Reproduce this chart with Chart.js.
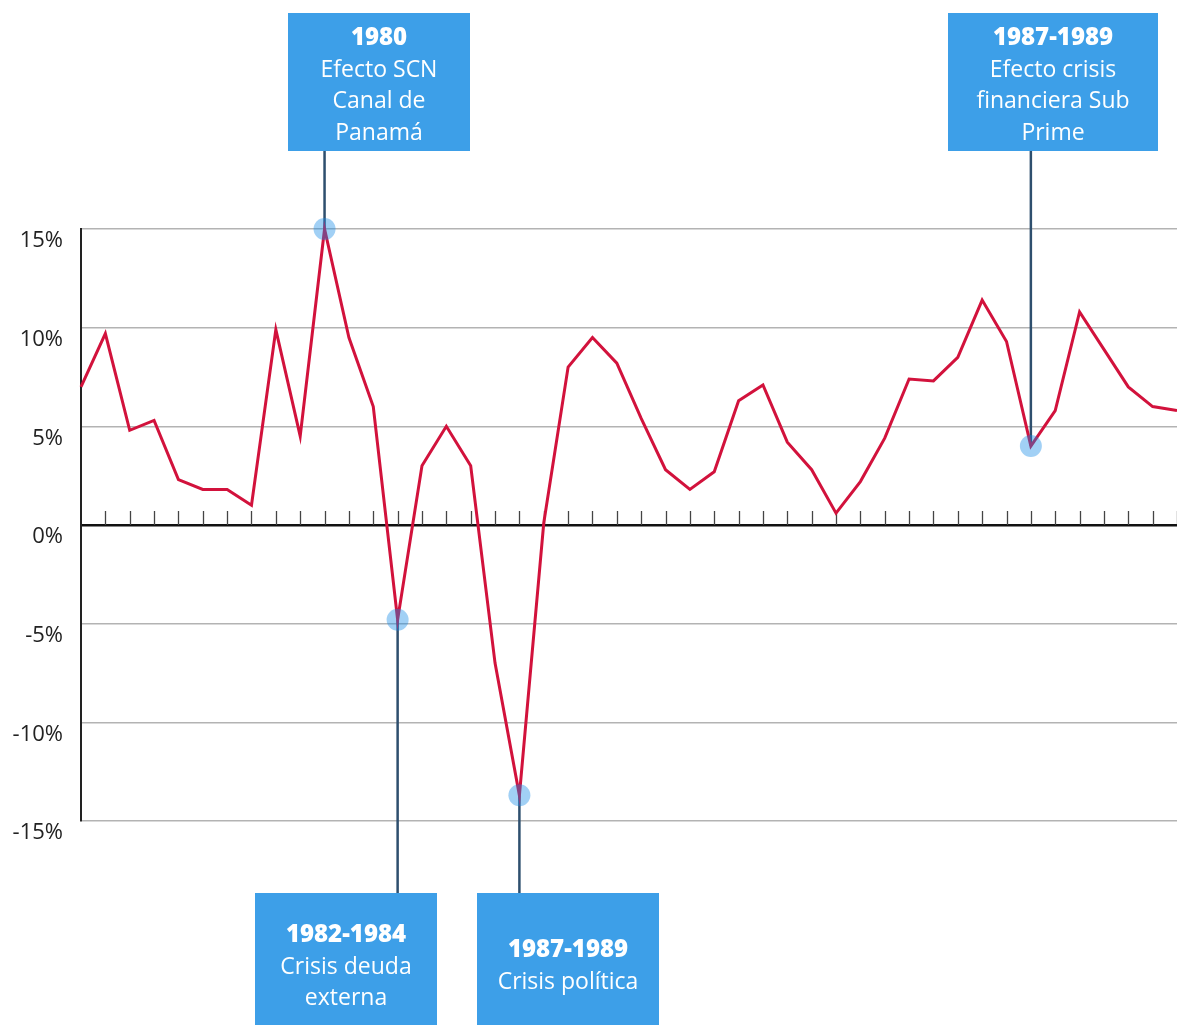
<!DOCTYPE html>
<html>
<head>
<meta charset="utf-8">
<script src="https://cdn.jsdelivr.net/npm/chart.js@4"></script>
<style>
  html, body { margin: 0; padding: 0; background: #ffffff; }
  #wrap { width: 1177px; height: 1025px; position: relative; }
</style>
</head>
<body>
<div id="wrap"><canvas id="c" width="1177" height="1025"></canvas></div>
<script>
// ---- Data ----
const years = [1970,1971,1972,1973,1974,1975,1976,1977,1978,1979,1980,1981,1982,1983,1984,1985,1986,1987,1988,1989,1990,1991,1992,1993,1994,1995,1996,1997,1998,1999,2000,2001,2002,2003,2004,2005,2006,2007,2008,2009,2010,2011,2012,2013,2014,2015];
const growth = [7.0,9.7,4.8,5.3,2.3,1.8,1.8,1.0,9.9,4.5,15.0,9.5,6.0,-4.8,3.0,5.0,3.0,-7.0,-13.7,0.1,8.0,9.5,8.2,5.4,2.8,1.8,2.7,6.3,7.1,4.2,2.8,0.6,2.2,4.4,7.4,7.3,8.5,11.4,9.3,4.0,5.8,10.8,8.9,7.0,6.0,5.8];
const yTicks = [-15,-10,-5,0,5,10,15];
const highlightYears = [1980, 1983, 1988, 2009];
const annoTitles = ["1980", "1982-1984", "1987-1989", "1987-1989"];
const annoLines = [
  ["Efecto SCN", "Canal de", "Panamá"],
  ["Crisis deuda", "externa"],
  ["Crisis política"],
  ["Efecto crisis", "financiera Sub", "Prime"]
];
const annoYears = [1980, 1983, 1988, 2009];

// ---- Layout for annotation boxes (positions only) ----
const annoBoxes = [
  {x: 288, y: 13,  w: 182, h: 138, firstY: 38.5,  side: 'top'},
  {x: 255, y: 893, w: 182, h: 132, firstY: 935.5, side: 'bottom'},
  {x: 477, y: 893, w: 182, h: 132, firstY: 950.5, side: 'bottom'},
  {x: 948, y: 13,  w: 210, h: 138, firstY: 38.5,  side: 'top'}
];
const FONT = '"Open Sans", "DejaVu Sans", sans-serif';
const LINE_H = 31.7;

const annoPlugin = {
  id: 'anno',
  beforeDatasetsDraw(chart) {
    const ctx = chart.ctx;
    const xs = chart.scales.x, ys = chart.scales.y;
    // tick marks along zero line
    const zy = ys.getPixelForValue(0);
    ctx.save();
    ctx.strokeStyle = '#444';
    ctx.lineWidth = 1.3;
    for (let i = 1; i < years.length; i++) {
      const px = Math.round(xs.getPixelForValue(i)) + 0.5;
      ctx.beginPath();
      ctx.moveTo(px, zy - 14);
      ctx.lineTo(px, zy);
      ctx.stroke();
    }
    // connectors
    ctx.strokeStyle = '#2e4f6e';
    ctx.lineWidth = 2.5;
    annoBoxes.forEach((b, k) => {
      const idx = years.indexOf(annoYears[k]);
      const px = xs.getPixelForValue(idx);
      const py = ys.getPixelForValue(growth[idx]);
      ctx.beginPath();
      if (b.side === 'top') {
        ctx.moveTo(px, b.y + b.h);
        ctx.lineTo(px, py);
      } else {
        ctx.moveTo(px, py);
        ctx.lineTo(px, b.y);
      }
      ctx.stroke();
    });
    ctx.restore();
  },
  afterDraw(chart) {
    const ctx = chart.ctx;
    ctx.save();
    annoBoxes.forEach((b, k) => {
      ctx.fillStyle = '#3d9fe8';
      ctx.fillRect(b.x, b.y, b.w, b.h);
      ctx.fillStyle = '#ffffff';
      ctx.textAlign = 'center';
      ctx.textBaseline = 'middle';
      const cx = b.x + b.w / 2;
      ctx.font = '800 24px ' + FONT;
      ctx.fillText(annoTitles[k], cx, b.firstY);
      ctx.font = '23px ' + FONT;
      annoLines[k].forEach((t, j) => {
        ctx.fillText(t, cx, b.firstY + LINE_H * (j + 1));
      });
    });
    ctx.restore();
  }
};

const hl = years.map(y => highlightYears.includes(y));

new Chart(document.getElementById('c'), {
  type: 'line',
  data: {
    labels: years,
    datasets: [{
      data: growth,
      borderColor: '#d2123c',
      borderWidth: 3,
      tension: 0,
      fill: false,
      clip: false,
      pointRadius: years.map((y, i) => hl[i] ? 11 : 0),
      pointHoverRadius: years.map((y, i) => hl[i] ? 11 : 0),
      pointBorderWidth: 0,
      pointBackgroundColor: 'rgba(20,137,230,0.4)',
      pointBorderColor: 'rgba(0,0,0,0)'
    }]
  },
  options: {
    responsive: false,
    animation: false,
    events: [],
    layout: { padding: { top: 229, bottom: 204, left: 0, right: 0 } },
    plugins: { legend: { display: false }, tooltip: { enabled: false } },
    scales: {
      x: {
        display: false,
        offset: false
      },
      y: {
        min: -15, max: 15,
        afterBuildTicks(axis) { axis.ticks = yTicks.map(v => ({ value: v })); },
        afterFit(axis) { axis.width = 81; },
        border: { display: true, color: '#222', width: 2 },
        grid: {
          drawTicks: false,
          tickLength: 0,
          color: ctx => (ctx.tick && ctx.tick.value === 0) ? '#111' : '#b3b3b3',
          lineWidth: ctx => (ctx.tick && ctx.tick.value === 0) ? 2.5 : 1.5
        },
        ticks: {
          padding: 18,
          labelOffset: 12,
          color: '#222',
          font: { family: FONT, size: 22 },
          callback: v => v + '%'
        }
      }
    }
  },
  plugins: [annoPlugin]
});
</script>
</body>
</html>
